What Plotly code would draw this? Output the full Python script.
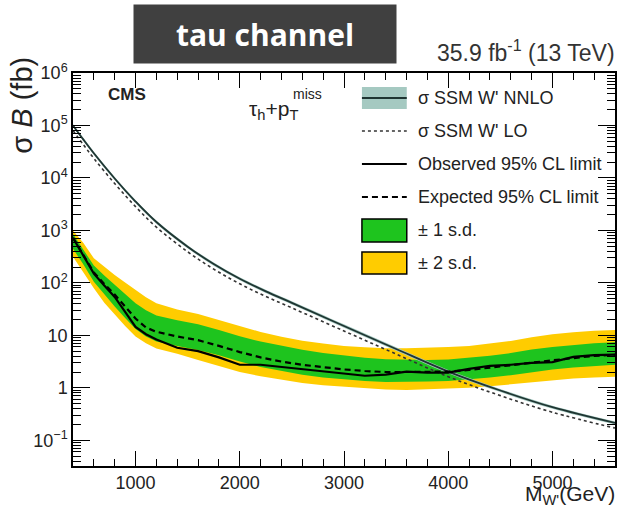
import plotly.graph_objects as go

# W' mass points (GeV) for the limit scan
mass = [400, 500, 600, 700, 800, 900, 1000, 1100, 1200, 1400, 1600, 1800, 2000,
        2200, 2400, 2600, 2800, 3000, 3200, 3400, 3600, 3800, 4000, 4200, 4400,
        4600, 4800, 5000, 5200, 5400, 5600]

# 95% CL upper limits on sigma*B (fb)
observed = [720, 320, 150, 89, 54, 28, 14.5, 10.5, 8.3, 5.8, 5.0, 3.8, 2.75,
            2.75, 2.5, 2.2, 2.0, 1.86, 1.7, 1.78, 2.04, 1.95, 1.95, 2.3, 2.63,
            2.75, 3.0, 3.1, 3.9, 4.2, 4.3]
expected = [724, 331, 158, 95, 60, 35.5, 20.9, 14.1, 11.7, 9.5, 8.1, 6.3, 4.8,
            3.8, 3.16, 2.75, 2.45, 2.24, 2.09, 2.0, 2.0, 2.0, 2.04, 2.19, 2.4,
            2.69, 3.02, 3.31, 3.72, 4.07, 4.27]
one_sd_up = [851, 420, 214, 138, 91, 60, 41, 30, 24, 19.5, 16.2, 12.6, 9.6,
             7.6, 6.3, 5.3, 4.6, 4.1, 3.75, 3.5, 3.4, 3.4, 3.45, 3.7, 4.1,
             4.6, 5.4, 6.0, 6.6, 7.1, 7.4]
one_sd_down = [447, 224, 105, 60, 35.5, 21.4, 13.2, 9.5, 7.6, 6.3, 5.25, 4.17,
               3.16, 2.5, 2.1, 1.78, 1.58, 1.45, 1.35, 1.29, 1.29, 1.32, 1.35,
               1.45, 1.58, 1.74, 2.0, 2.24, 2.45, 2.63, 2.75]
two_sd_up = [1000, 575, 295, 200, 141, 102, 74, 53, 41, 31, 25.5, 19.5, 14.8,
             11.6, 9.4, 7.9, 7.0, 6.3, 5.9, 5.7, 5.7, 5.8, 6.0, 6.3, 6.9, 7.8,
             9.2, 10.5, 11.5, 12.3, 12.6]
two_sd_down = [316, 158, 79, 42, 25, 15.1, 9.5, 7.1, 5.6, 4.47, 3.4, 2.63, 2.0,
               1.66, 1.41, 1.23, 1.12, 1.05, 0.98, 0.93, 0.91, 0.93, 0.95, 1.0,
               1.07, 1.17, 1.29, 1.41, 1.51, 1.58, 1.62]

# SSM W' theory cross sections times branching fraction (fb)
theory_mass = [400, 500, 600, 800, 1000, 1200, 1500, 1750, 2000, 2250, 2500,
               3000, 3500, 4000, 4500, 5000, 5600]
nnlo = [100000, 53700, 29500, 9770, 3550, 1445, 490, 229, 120, 69, 41.7, 15.1,
        5.5, 2.04, 0.89, 0.427, 0.214]
nnlo_up = [107000, 57500, 31600, 10450, 3800, 1545, 524, 245, 128, 73.8, 44.6,
           16.2, 5.9, 2.18, 0.95, 0.457, 0.229]
nnlo_down = [93000, 49900, 27400, 9090, 3300, 1345, 456, 213, 112, 64.2, 38.8,
             14.0, 5.1, 1.90, 0.83, 0.397, 0.199]
lo = [80000, 43000, 23600, 7800, 2840, 1155, 392, 183, 96, 55, 33.4, 12.1, 4.4,
      1.63, 0.71, 0.342, 0.171]

# axis ticks
x_ticks = [1000, 2000, 3000, 4000, 5000]
y_ticks = [0.1, 1, 10, 100, 1e3, 1e4, 1e5, 1e6]
y_tick_text = ["10<sup>\u22121</sup>", "1", "10", "10<sup>2</sup>",
               "10<sup>3</sup>", "10<sup>4</sup>", "10<sup>5</sup>",
               "10<sup>6</sup>"]

legend_labels = ["\u03c3 SSM W' NNLO", "\u03c3 SSM W' LO",
                 "Observed 95% CL limit", "Expected 95% CL limit",
                 "\u00b1 1 s.d.", "\u00b1 2 s.d."]

GREEN = "#1ec41e"
YELLOW = "#ffcc00"
BAND_NNLO = "#a5c9c1"
LINE_NNLO = "#1f3532"
FONT = "Liberation Sans, Arial, Helvetica, sans-serif"

W, H = 621, 510
L, R, T, B = 73, 617, 73, 466


def fx(x):
    """page pixel -> paper x"""
    return (x - L) / (R - L)


def fy(y):
    """page pixel -> paper y"""
    return (B - y) / (B - T)


def note(x, y, text, size, **kw):
    d = dict(xref="paper", yref="paper", x=fx(x), y=fy(y), text=text,
             showarrow=False, xanchor="left", yanchor="middle",
             font=dict(family=FONT, size=size, color="#222222"))
    d.update(kw)
    return d


fig = go.Figure()

# expected-limit bands
fig.add_trace(go.Scatter(x=mass, y=two_sd_down, mode="lines",
                         line=dict(width=0, color=YELLOW), showlegend=False,
                         hoverinfo="skip"))
fig.add_trace(go.Scatter(x=mass, y=two_sd_up, mode="lines", fill="tonexty",
                         fillcolor=YELLOW, line=dict(width=0, color=YELLOW),
                         showlegend=False))
fig.add_trace(go.Scatter(x=mass, y=one_sd_down, mode="lines",
                         line=dict(width=0, color=GREEN), showlegend=False,
                         hoverinfo="skip"))
fig.add_trace(go.Scatter(x=mass, y=one_sd_up, mode="lines", fill="tonexty",
                         fillcolor=GREEN, line=dict(width=0, color=GREEN),
                         showlegend=False))

# theory band and curves
fig.add_trace(go.Scatter(x=theory_mass, y=nnlo_down, mode="lines",
                         line=dict(width=0, color=BAND_NNLO, shape="spline"),
                         showlegend=False, hoverinfo="skip"))
fig.add_trace(go.Scatter(x=theory_mass, y=nnlo_up, mode="lines", fill="tonexty",
                         fillcolor=BAND_NNLO,
                         line=dict(width=0, color=BAND_NNLO, shape="spline"),
                         showlegend=False))
fig.add_trace(go.Scatter(x=theory_mass, y=lo, mode="lines",
                         line=dict(color="#333333", width=1.6, dash="dot",
                                   shape="spline"),
                         showlegend=False))
fig.add_trace(go.Scatter(x=theory_mass, y=nnlo, mode="lines",
                         line=dict(color=LINE_NNLO, width=1.8, shape="spline"),
                         showlegend=False))

# limits
fig.add_trace(go.Scatter(x=mass, y=expected, mode="lines",
                         line=dict(color="black", width=2.2, dash="6px,4px"),
                         showlegend=False))
fig.add_trace(go.Scatter(x=mass, y=observed, mode="lines",
                         line=dict(color="black", width=2.2),
                         showlegend=False))

axis_font = dict(family=FONT, size=18, color="#222222")

fig.update_xaxes(range=[400, 5600], showline=True, linecolor="black",
                 linewidth=1.5, mirror="allticks", ticks="inside", ticklen=15,
                 tickwidth=1.3, tickcolor="black", tickvals=x_ticks,
                 ticktext=[str(v) for v in x_ticks], tickfont=axis_font,
                 showgrid=False, zeroline=False,
                 minor=dict(ticks="inside", ticklen=7, tickwidth=1.2,
                            tickcolor="black", dtick=200, tick0=0,
                            showgrid=False))
fig.update_yaxes(type="log", range=[-1.49, 6], showline=True,
                 linecolor="black", linewidth=1.5, mirror="allticks",
                 ticks="inside", ticklen=17, tickwidth=1.3, tickcolor="black",
                 tickvals=y_ticks, ticktext=y_tick_text, tickfont=axis_font,
                 showgrid=False, zeroline=False,
                 minor=dict(ticks="inside", ticklen=8, tickwidth=1.2,
                            tickcolor="black", dtick="D1", showgrid=False))

annotations = [
    # channel banner
    note(266, 34, "<b>tau channel</b>", 30, xanchor="center", width=262,
         height=58, borderpad=0, bgcolor="#404040",
         font=dict(family="Open Sans, sans-serif", size=30, color="white")),
    note(619, 51, "35.9 fb<sup>-1</sup> (13 TeV)", 23, xanchor="right",
         font=dict(family=FONT, size=23, color="#333333")),
    note(106, 95, "<b>CMS</b>", 17),
    note(248, 110, "\u03c4<sub>h</sub>+p<sub>T</sub>", 21),
    note(292, 94, "miss", 14),
    # axis titles
    note(22, 55, "\u03c3 <i>B</i> (fb)", 29, textangle=-90, xanchor="center",
         yanchor="top"),
    note(619, 495, "M<sub>W'</sub>(GeV)", 21, xanchor="right"),
]

# legend block
rows = [98, 131, 164, 197, 230, 263]
for label, yc in zip(legend_labels, rows):
    annotations.append(note(417, yc, label, 18))

sx0, sx1 = fx(363), fx(408)
shapes = [
    dict(type="rect", xref="paper", yref="paper", x0=sx0, x1=sx1,
         y0=fy(109), y1=fy(87), fillcolor=BAND_NNLO, line=dict(width=0),
         layer="above"),
    dict(type="line", xref="paper", yref="paper", x0=sx0, x1=sx1,
         y0=fy(rows[0]), y1=fy(rows[0]),
         line=dict(color=LINE_NNLO, width=2)),
    dict(type="line", xref="paper", yref="paper", x0=sx0, x1=sx1,
         y0=fy(rows[1]), y1=fy(rows[1]),
         line=dict(color="#333333", width=1.6, dash="dot")),
    dict(type="line", xref="paper", yref="paper", x0=sx0, x1=sx1,
         y0=fy(rows[2]), y1=fy(rows[2]), line=dict(color="black", width=2.2)),
    dict(type="line", xref="paper", yref="paper", x0=sx0, x1=sx1,
         y0=fy(rows[3]), y1=fy(rows[3]),
         line=dict(color="black", width=2.2, dash="6px,4px")),
    dict(type="rect", xref="paper", yref="paper", x0=sx0, x1=sx1,
         y0=fy(242), y1=fy(219), fillcolor=GREEN,
         line=dict(color="black", width=1.5)),
    dict(type="rect", xref="paper", yref="paper", x0=sx0, x1=sx1,
         y0=fy(274), y1=fy(252), fillcolor=YELLOW,
         line=dict(color="black", width=1.5)),
]

fig.update_layout(width=W, height=H,
                  margin=dict(l=L, r=W - R, t=T, b=H - B, pad=0),
                  paper_bgcolor="white", plot_bgcolor="white",
                  showlegend=False, annotations=annotations, shapes=shapes,
                  font=dict(family=FONT))

fig.write_html("out.html")
